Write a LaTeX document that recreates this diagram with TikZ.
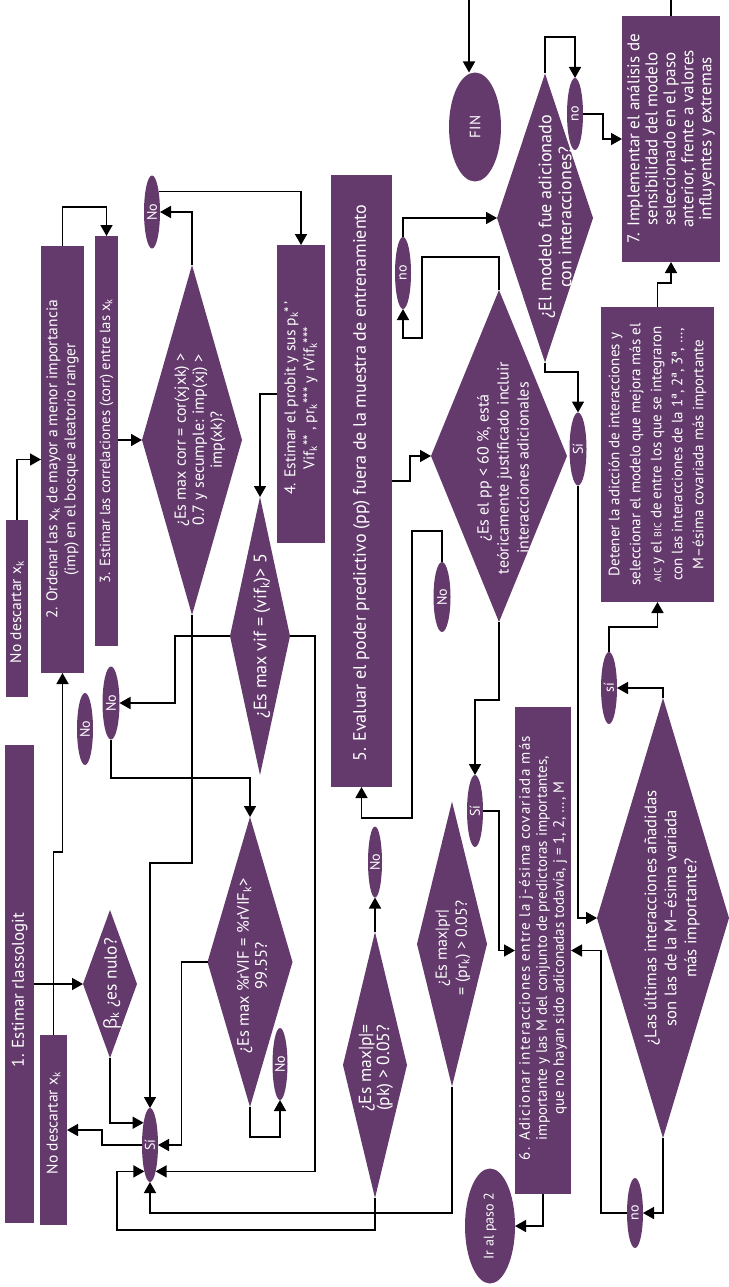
\documentclass[tikz,border=0pt]{standalone}
\usepackage{fontspec}
\setmainfont{PT Sans}
\newfontfamily\grk{Open Sans}
\usetikzlibrary{shapes.geometric,arrows.meta}
\definecolor{pcol}{HTML}{643A6D}
\newcommand\fsz[2]{\fontsize{#1}{#2}\selectfont}
\tikzset{
 box/.style={rectangle, fill=pcol, inner sep=0pt, outer sep=0pt},
 dia/.style={diamond, fill=pcol, inner sep=0pt, outer sep=0pt},
 ell/.style={ellipse, fill=pcol, inner sep=0pt, outer sep=0pt},
 lbl/.style={rotate=90, text=white, align=center, inner sep=0pt, font=\fsz{15.5}{18}},
 slbl/.style={lbl, font=\fsz{14}{16}},
 arr/.style={line width=1.6pt, -{Triangle[length=11pt,width=12pt]}},
 ln/.style={line width=1.6pt},
}
\begin{document}
\begin{tikzpicture}[x=1pt,y=-1pt]
\useasboundingbox (0,0) rectangle (728,1287);
% boxes
\node[box, minimum width=29pt, minimum height=478pt] (b1) at (19.5,984) {};
\node[box, minimum width=27pt, minimum height=190pt] (nd1) at (53.5,1130) {};
\node[box, minimum width=22pt, minimum height=177pt] (nd2) at (17,608.5) {};
\node[box, minimum width=43pt, minimum height=427pt] (b2) at (62.5,459.5) {};
\node[box, minimum width=23pt, minimum height=410pt] (b3) at (106.5,441) {};
\node[box, minimum width=48pt, minimum height=298pt] (b4) at (301,394) {};
\node[box, minimum width=61pt, minimum height=612pt] (b5) at (361.5,481) {};
\node[box, minimum width=56pt, minimum height=487pt] (b6) at (543,950.5) {};
\node[box, minimum width=98pt, minimum height=246pt] (b7) at (671,139) {};
\node[box, minimum width=113pt, minimum height=295pt] (bdet) at (657.5,454.5) {};
% diamonds
\node[dia, minimum width=100pt, minimum height=350pt] (d1) at (192,440) {};
\node[dia, minimum width=54pt, minimum height=148pt] (dbeta) at (110,984) {};
\node[dia, minimum width=60pt, minimum height=278pt] (dvif) at (260,636) {};
\node[dia, minimum width=85pt, minimum height=290pt] (drvif) at (250,962) {};
\node[dia, minimum width=64pt, minimum height=266pt] (dp) at (375,1065) {};
\node[dia, minimum width=70pt, minimum height=285pt] (dpr) at (452,944) {};
\node[dia, minimum width=136pt, minimum height=332pt] (dpp) at (499,456) {};
\node[dia, minimum width=96pt, minimum height=289pt] (dmod) at (545,218) {};
\node[dia, minimum width=132pt, minimum height=440pt] (dult) at (663,918) {};
% ellipses
\node[ell, minimum width=16pt, minimum height=73pt] (eNo1) at (152,212) {};
\node[ell, minimum width=16pt, minimum height=72pt] (eNoA) at (85,729) {};
\node[ell, minimum width=17pt, minimum height=73pt] (eNoB) at (111,703) {};
\node[ell, minimum width=15pt, minimum height=72pt] (eNoC) at (280,1064) {};
\node[ell, minimum width=16pt, minimum height=74pt] (eSi1) at (150,1145) {};
\node[ell, minimum width=14pt, minimum height=71pt] (eNoD) at (375,862) {};
\node[ell, minimum width=17pt, minimum height=70pt] (eNoE) at (442,597) {};
\node[ell, minimum width=16pt, minimum height=72pt] (eno1) at (403,273) {};
\node[ell, minimum width=16pt, minimum height=72pt] (eSi2) at (475,811) {};
\node[ell, minimum width=52pt, minimum height=109pt] (eFIN) at (475,127) {};
\node[ell, minimum width=16pt, minimum height=72pt] (eno2) at (575,114) {};
\node[ell, minimum width=17pt, minimum height=73pt] (eSi3) at (578,449) {};
\node[ell, minimum width=16pt, minimum height=72pt] (esi4) at (609,688) {};
\node[ell, minimum width=16pt, minimum height=70pt] (eno3) at (635,1213) {};
\node[ell, minimum width=50pt, minimum height=115pt] (eIr) at (490,1226) {};
% labels
\node[lbl, font=\fsz{17}{19}] (tb1) at (19.5,990) {1. Estimar rlassologit};
\node[lbl] (tnd1) at (53.5,1123) {No descartar x\textsubscript{k}};
\node[lbl] (tnd2) at (17,612) {No descartar x\textsubscript{k}};
\node[lbl] (tb2) at (b2) {2. Ordenar las x\textsubscript{k} de mayor a menor importancia\\(imp) en el bosque aleatorio ranger};
\node[lbl, font=\fsz{14.7}{17}] (tb3) at (b3) {3. Estimar las correlaciones (corr) entre las x\textsubscript{k}};
\node[lbl, font=\fsz{15.5}{19}] (tb4) at (301,398) {4. Estimar el probit y sus p\textsubscript{k}*\,’\\Vif\textsubscript{k}** , pr\textsubscript{k}*** y rVif\textsubscript{k}***};
\node[lbl, font=\fsz{18}{20}] (tb5) at (361.5,483) {5. Evaluar el poder predictivo (pp) fuera de la muestra de entrenamiento};
\node[lbl, font=\fsz{15}{17}] (tb6) at (543,948) {{\addfontfeature{LetterSpace=8}6. Adicionar interacciones entre la j-ésima covariada más}\\importante y las M del conjunto de predictoras importantes,\\que no hayan sido adiconadas todavía, j = 1, 2, …, M};
\node[lbl, font=\fsz{17}{18}] (tb7) at (b7) {7. Implementar el análisis de\\sensibilidad del modelo\\seleccionado en el paso\\anterior, frente a valores\\influyentes y extremas};
\node[lbl, font=\fsz{15}{21}] (tbdet) at (bdet) {Detener la adicción de interacciones y\\seleccionar el modelo que mejora más el\\{\fsz{10}{12}AIC} y el {\fsz{10}{12}BIC} de entre los que se integraron\\con las interacciones de la 1ª, 2ª, 3ª, …,\\M–ésima covariada más importante};
\node[lbl, font=\fsz{16}{18}] (td1) at (200,440) {¿Es max corr = cor(xjxk) >\\0.7 y secumple: imp(xj) >\\imp(xk)?};
\node[lbl, font=\fsz{17.5}{19}] (tdbeta) at (112,984) {{\grk β}\textsubscript{k} ¿es nulo?};
\node[lbl, font=\fsz{18}{20}] (tdvif) at (262,636) {¿Es max vif = (vif\textsubscript{k})> 5};
\node[lbl, font=\fsz{16.5}{18}] (tdrvif) at (252,966) {¿Es max \%rVIF = \%rVIF\textsubscript{k}>\\99.55?};
\node[lbl, font=\fsz{17.5}{18}] (tdp) at (376,1068) {¿Es max|p|=\\(pk) > 0.05?};
\node[lbl, font=\fsz{16}{20}] (tdpr) at (453,948) {¿Es max|pr|\\= (pr\textsubscript{k}) > 0.05?};
\node[lbl, font=\fsz{16}{20}] (tdpp) at (503,468) {¿Es el pp < 60 \%, está\\teóricamente justificado incluir\\interacciones adicionales};
\node[lbl, font=\fsz{18}{20}] (tdmod) at (555,217) {¿El modelo fue adicionado\\con interacciones?};
\node[lbl, font=\fsz{16.7}{20}] (tdult) at (672,918) {¿Las últimas interacciones añadidas\\son las de la M–ésima variada\\más importante?};
\node[slbl] (teNo1) at (eNo1) {No};
\node[slbl] (teNoA) at (eNoA) {No};
\node[slbl] (teNoB) at (eNoB) {No};
\node[slbl] (teNoC) at (eNoC) {No};
\node[slbl] (teSi1) at (eSi1) {Sí};
\node[slbl] (teNoD) at (eNoD) {No};
\node[slbl] (teNoE) at (eNoE) {No};
\node[slbl] (teno1) at (eno1) {no};
\node[slbl] (teSi2) at (eSi2) {Sí};
\node[slbl, font=\fsz{15}{17}] (teFIN) at (eFIN) {FIN};
\node[slbl] (teno2) at (eno2) {no};
\node[slbl] (teSi3) at (eSi3) {Sí};
\node[slbl] (tesi4) at (esi4) {sí};
\node[slbl] (teno3) at (eno3) {no};
\node[slbl] (teIr) at (eIr) {Ir al paso 2};
% free ends
\coordinate (top1) at (671,0);
\coordinate (top2) at (469,0);
% connectors
\draw[arr] (nd2.north) |- (b2.west);
\draw[arr] (nd1.north) -- (nd1.north |- 0,852) -| (b2.south);
\draw[arr] (b1.east) -- (dbeta.west);
\draw[arr] (b2.north) -- (b2.north |- 0,207) -| (b3.north);
\draw[arr] (b3.east |- d1.west) -- (d1.west);
\draw[arr] (d1.north) |- (eNo1.east);
\draw[arr] (eNo1.72) -| (b4.north);
\draw[arr] (b4.west) -| (dvif.north);
\draw[arr] (dvif.west) -- ++(-55,0) |- (eNoB.east);
\draw[arr] (eNoB.south) |- (drvif.north |- 0,778) -- (drvif.north);
\draw[arr] (dbeta.south) |- (eSi1.106);
\draw[arr] (eSi1.west) -- ++(-40,0) |- (nd1.east);
\draw[arr] (d1.south) |- (eSi1.north |- 0,863) -- (eSi1.north);
\draw[arr] (drvif.west) -- ++(-26,0) |- (eSi1.east);
\draw[arr] (dvif.east) -- ++(25,0) |- (eSi1.-78);
\draw[arr] (dpr.south) |- (eSi1.south |- 0,1213) -- (eSi1.south);
\draw[arr] (dp.south) |- (117,1230) |- (eSi1.-102);
\draw[arr] (drvif.south) |- (eNoC.south |- 0,1137) -- (eNoC.south);
\draw[arr] (dp.north) -- (eNoD.south);
\draw[arr] (b5.east |- 0,481) -- ++(18,0) |- (dpp.west);
\draw[arr] (eNoE.north) |- (412,531) |- (b5.south |- 0,818) -- (b5.south);
\draw[arr] (dpp.north) |- (422,257) |- (eno1.south |- 0,338) -- (eno1.south);
\draw[arr] (eno1.north) |- (dmod.west);
\draw[arr] (dmod.north) |- (eno2.north |- 0,37) -- (eno2.north);
\draw[arr] (eno2.east) -- ++(20,0) |- (b7.west);
\draw[arr] (dmod.south) |- (eSi3.north |- 0,372) -- (eSi3.north);
\draw[arr] (eSi3.south) |- (dult.west);
\draw[arr] (dult.north) |- (esi4.east);
\draw[arr] (esi4.north) |- (bdet.south |- 0,627) -- (bdet.south);
\draw[arr] (bdet.north) |- (b7.south |- 0,283) -- (b7.south);
\draw[ln] (b7.north) -- (top1);
\draw[arr] (top2) -- (top2 |- eFIN.north);
\draw[arr] (dpp.south) |- (eSi2.north |- 0,700) -- (eSi2.north);
\draw[arr] (eSi2.east) -- ++(16,0) |- (b6.west);
\draw[arr] (dult.south) |- (eno3.east);
\draw[arr] (eno3.west) -- ++(-26,0) |- (b6.east);
\draw[arr] (b6.south) |- (eIr.east);
\end{tikzpicture}
\end{document}
